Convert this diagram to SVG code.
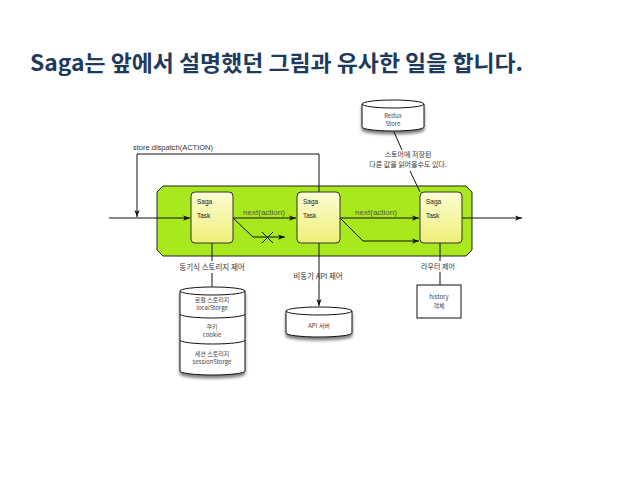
<svg xmlns="http://www.w3.org/2000/svg" width="638" height="479" viewBox="0 0 638 479">
<style>
.title{font-family:"Noto Sans CJK KR","Noto Sans",sans-serif;font-weight:bold;font-size:22px;fill:#1e3a5c}
.t{font-family:"Liberation Sans","Noto Sans CJK KR",sans-serif;font-size:6.5px;fill:#222}
.lbl{font-family:"Noto Sans CJK KR","Liberation Sans",sans-serif;font-size:7.5px;fill:#333;text-anchor:middle}
.small{font-family:"Noto Sans CJK KR","Liberation Sans",sans-serif;font-size:6px;fill:#444;text-anchor:middle}
.nx{font-family:"Liberation Sans",sans-serif;font-size:8px;fill:#555;text-anchor:middle}
.ln{fill:none;stroke:#111;stroke-width:1}
.task{fill:url(#tg);stroke:#333;stroke-width:1}
.cyl{fill:#fff;stroke:#111;stroke-width:1}
</style>
<defs>
<linearGradient id="tg" x1="0" y1="0" x2="0" y2="1">
<stop offset="0" stop-color="#fcfcd6"/>
<stop offset="1" stop-color="#eeef76"/>
</linearGradient>
<filter id="sh" x="-20%" y="-20%" width="140%" height="150%">
<feGaussianBlur in="SourceAlpha" stdDeviation="1.5"/>
<feOffset dx="0" dy="2.5" result="b"/>
<feComponentTransfer><feFuncA type="linear" slope="0.5"/></feComponentTransfer>
<feMerge><feMergeNode/><feMergeNode in="SourceGraphic"/></feMerge>
</filter>
<marker id="ah" viewBox="0 0 8 8" refX="8" refY="4" markerWidth="7" markerHeight="7" markerUnits="userSpaceOnUse" orient="auto">
<path d="M0,1 L8,4 L0,7 L2,4 Z" fill="#111"/>
</marker>
</defs>
<rect width="638" height="479" fill="#fff"/>
<text class="title" x="30" y="71" textLength="493" lengthAdjust="spacingAndGlyphs">Saga는 앞에서 설명했던 그림과 유사한 일을 합니다.</text>

<g id="container">
<path d="M163,186 H466 L472,192 V250 L466,256 H163 L157,250 V192 Z" fill="#a8e81c" stroke="#222" stroke-width="1"/>
</g>

<g id="connectors">
<path class="ln" d="M319,192 V154 H137 V217" marker-end="url(#ah)"/>
<path class="ln" d="M109,218 H190" marker-end="url(#ah)"/>
<path class="ln" d="M233,218 H296" marker-end="url(#ah)"/>
<path class="ln" d="M233,218 L253,237 H285" marker-end="url(#ah)"/>
<path class="ln" d="M262,232 L273,243 M262,243 L273,232" stroke-width="1.2"/>
<path class="ln" d="M340,218 H419" marker-end="url(#ah)"/>
<path class="ln" d="M340,218 L363,241 H419" marker-end="url(#ah)"/>
<path class="ln" d="M462,218 H522" marker-end="url(#ah)"/>
<path class="ln" d="M394,132 L402,150 M410,171 L420,192"/>
<path class="ln" d="M212,243 V261 M212,273 V287"/>
<path class="ln" d="M319,243 V306" marker-end="url(#ah)"/>
<path class="ln" d="M440,243 V261 M440,272 V285"/>
<text class="nx" x="264" y="215">next(action)</text>
<text class="nx" x="376" y="215">next(action)</text>
<text class="t" x="133" y="150" style="font-size:7.5px;fill:#333">store.dispatch(ACTION)</text>
<text class="lbl" x="408" y="157" style="font-size:7px">스토어에 저장된</text>
<text class="lbl" x="408" y="166.5" style="font-size:7px">다른 값을 읽어올수도 있다.</text>
<text class="lbl" x="212" y="270">동기식 스토리지 제어</text>
<text class="lbl" x="318" y="279">비동기 API 제어</text>
<text class="lbl" x="438" y="269" style="font-size:7px">라우터 제어</text>
</g>

<g id="task1">
<rect class="task" x="191" y="192" width="42" height="51" rx="4"/>
<text class="t" x="197" y="204">Saga</text>
<text class="t" x="197" y="218">Task</text>
</g>
<g id="task2">
<rect class="task" x="297" y="192" width="43" height="51" rx="4"/>
<text class="t" x="303" y="204">Saga</text>
<text class="t" x="303" y="218">Task</text>
</g>
<g id="task3">
<rect class="task" x="420" y="192" width="42" height="51" rx="4"/>
<text class="t" x="426" y="204">Saga</text>
<text class="t" x="426" y="218">Task</text>
</g>

<g id="redux-store">
<path class="cyl" filter="url(#sh)" d="M362,104 A31,4 0 0 1 424,104 V127 A31,4 0 0 1 362,127 Z"/>
<path class="ln" d="M362,104 A31,4 0 0 0 424,104"/>
<text class="small" x="393" y="118">Redux</text>
<text class="small" x="393" y="126">Store</text>
</g>

<g id="storage">
<path class="cyl" filter="url(#sh)" d="M180,291 A32.5,4 0 0 1 245,291 V371 A32.5,4 0 0 1 180,371 Z"/>
<path class="ln" d="M180,291 A32.5,4 0 0 0 245,291 M180,314 A32.5,4 0 0 0 245,314 M180,340 A32.5,4 0 0 0 245,340"/>
<text class="small" x="212" y="302">로컬 스토리지</text>
<text class="small" x="212" y="310">localStorge</text>
<text class="small" x="212" y="329">쿠키</text>
<text class="small" x="212" y="337">cookie</text>
<text class="small" x="212" y="356">세션 스토리지</text>
<text class="small" x="212" y="364">sessionStorge</text>
</g>

<g id="api-server">
<path class="cyl" filter="url(#sh)" d="M286,311 A33,4 0 0 1 352,311 V333 A33,4 0 0 1 286,333 Z"/>
<path class="ln" d="M286,311 A33,4 0 0 0 352,311"/>
<text class="small" x="319" y="328">API 서버</text>
</g>

<g id="history">
<rect x="417" y="285" width="44" height="33" fill="#fff" stroke="#111" stroke-width="1"/>
<text class="small" x="439" y="299">history</text>
<text class="small" x="439" y="307.5">객체</text>
</g>
</svg>
